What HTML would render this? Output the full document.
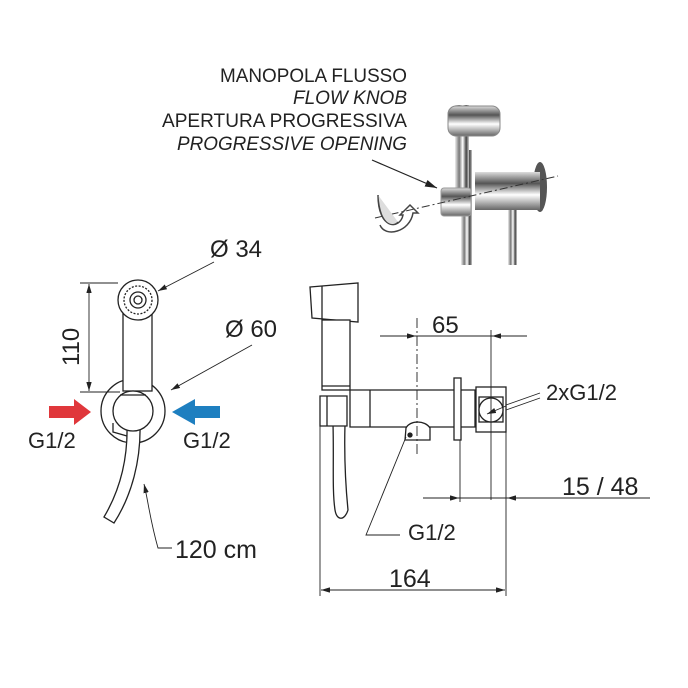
<!DOCTYPE html>
<html><head><meta charset="utf-8"><style>
html,body{margin:0;padding:0;background:#fff}
svg{display:block}
text{font-family:"Liberation Sans",sans-serif;fill:#222}
</style></head><body>
<svg width="688" height="688" viewBox="0 0 688 688" xmlns="http://www.w3.org/2000/svg">
<defs>
<marker id="ar" viewBox="0 0 10 6" refX="10" refY="3" markerWidth="10" markerHeight="6" orient="auto-start-reverse"><path d="M0,0L10,3L0,6z" fill="#222"/></marker>
<linearGradient id="chr" x1="0" x2="1"><stop offset="0" stop-color="#eee"/><stop offset=".3" stop-color="#777"/><stop offset=".55" stop-color="#fff"/><stop offset=".8" stop-color="#444"/><stop offset="1" stop-color="#ccc"/></linearGradient>
<linearGradient id="chv" x1="0" y1="0" x2="0" y2="1"><stop offset="0" stop-color="#ddd"/><stop offset=".3" stop-color="#555"/><stop offset=".6" stop-color="#fff"/><stop offset="1" stop-color="#666"/></linearGradient>
</defs>

<!-- top labels -->
<g font-size="19" text-anchor="end">
<text x="407" y="82" textLength="187" lengthAdjust="spacingAndGlyphs">MANOPOLA FLUSSO</text>
<text x="407" y="104" font-style="italic">FLOW KNOB</text>
<text x="407" y="127" textLength="245" lengthAdjust="spacingAndGlyphs">APERTURA PROGRESSIVA</text>
<text x="407" y="150" font-style="italic" textLength="230" lengthAdjust="spacingAndGlyphs">PROGRESSIVE OPENING</text>
</g>
<line x1="372" y1="160" x2="437" y2="188" stroke="#222" stroke-width="1.2" marker-end="url(#ar)"/>
<!-- photo approx -->
<rect x="461" y="150" width="11" height="115" fill="url(#chr)"/>
<rect x="508" y="205" width="9" height="60" fill="url(#chr)"/>
<rect x="455" y="105" width="14" height="85" fill="url(#chr)"/>
<rect x="448" y="106" width="52" height="30" rx="8" fill="url(#chv)" stroke="#888"/>
<ellipse cx="540" cy="187" rx="7" ry="25" fill="#555"/>
<rect x="475" y="172" width="65" height="38" fill="url(#chv)"/>
<rect x="441" y="188" width="30" height="28" rx="3" fill="url(#chv)" stroke="#999"/>
<line x1="375" y1="218" x2="558" y2="176" stroke="#333" stroke-dasharray="8,3,2,3"/>
<path d="M378,195 C378,230 400,230 403,215 L400,215 L410,205 L418,213 L413,213 C410,232 385,238 380,225" fill="none" stroke="#444" stroke-width="1.5"/>
<path d="M378,195 C380,225 392,228 398,222" fill="#ddd" stroke="#444"/>

<!-- LEFT VIEW -->
<g stroke="#222" stroke-width="1.3" fill="#fff">
<circle cx="133" cy="411" r="32"/>
<path d="M113,423 L113,432 L127,436" fill="none"/>
<path d="M127,424 C128,460 120,490 104,517 L114,523 C132,495 141,460 140,424 Z"/>
<rect x="123" y="300" width="29" height="91"/>
<ellipse cx="133" cy="411" rx="20" ry="20"/>
<line x1="120" y1="395" x2="146" y2="395"/>
<circle cx="138" cy="300" r="20"/>
<circle cx="138" cy="300" r="14" stroke-dasharray="2,1.5"/>
<circle cx="138" cy="300" r="8"/>
<circle cx="138" cy="300" r="4"/>
</g>
<g stroke="#222" stroke-width="0.9" fill="none">
<line x1="80" y1="283" x2="118" y2="283"/>
<line x1="80" y1="392" x2="120" y2="392"/>
<line x1="89" y1="284" x2="89" y2="391" marker-start="url(#ar)" marker-end="url(#ar)"/>
<line x1="214" y1="262" x2="158" y2="291" marker-end="url(#ar)"/>
<line x1="252" y1="345" x2="171" y2="390" marker-end="url(#ar)"/>
<path d="M172,548 L158,548 C150,520 148,500 144,484" marker-end="url(#ar)"/>
</g>
<text x="0" y="0" font-size="24" transform="translate(79,366) rotate(-90)">110</text>
<text x="210" y="257" font-size="24">Ø 34</text>
<text x="225" y="337" font-size="24">Ø 60</text>
<text x="175" y="558" font-size="25">120 cm</text>
<text x="28" y="448" font-size="22">G1/2</text>
<text x="183" y="448" font-size="22">G1/2</text>
<path d="M49,406 L74,406 L74,399 L91,412 L74,425 L74,418 L49,418 Z" fill="#e0373b"/>
<path d="M220,406 L195,406 L195,399 L172,412 L195,425 L195,418 L220,418 Z" fill="#1e7fc0"/>

<!-- RIGHT VIEW -->
<g stroke="#222" stroke-width="1.3" fill="#fff">
<path d="M333,424 C334,460 332,490 335,510 C337,522 345,520 348,510 C346,490 344,460 345,424 Z"/>
<path d="M310,287 L358,283 L358,322 L312,318 Z"/>
<line x1="322" y1="286" x2="322" y2="319"/>
<rect x="322" y="320" width="28" height="70"/>
<line x1="322" y1="386" x2="350" y2="386"/>
<path d="M350,390 L475,390 L475,427 L350,427 Z"/>
<line x1="370" y1="390" x2="370" y2="427"/>
<path d="M320,396 L347,396 L347,426 L320,426 Z"/>
<line x1="327" y1="396" x2="327" y2="426"/>
<path d="M405,440 L406,428 C410,420 425,420 430,428 L430,440 Z"/>
<circle cx="410" cy="435" r="2" fill="#222"/>
<rect x="454" y="378" width="7" height="62"/>
<rect x="476" y="387" width="30" height="45"/>
<rect x="479" y="397" width="24" height="25"/>
<circle cx="491" cy="410" r="12"/>
</g>
<g stroke="#222" stroke-width="0.9" fill="none">
<line x1="380" y1="336" x2="527" y2="336"/>
<line x1="395" y1="336" x2="416" y2="336" marker-end="url(#ar)"/>
<line x1="512" y1="336" x2="492" y2="336" marker-end="url(#ar)"/>
<line x1="417" y1="318" x2="417" y2="455" stroke-dasharray="10,3,2,3"/>
<line x1="491" y1="330" x2="491" y2="500"/>
<line x1="460" y1="440" x2="460" y2="502"/>
<line x1="506" y1="432" x2="506" y2="596"/>
<line x1="423" y1="498" x2="650" y2="498"/>
<line x1="440" y1="498" x2="459" y2="498" marker-end="url(#ar)"/>
<line x1="525" y1="498" x2="507" y2="498" marker-end="url(#ar)"/>
<line x1="320" y1="420" x2="320" y2="596"/>
<line x1="321" y1="590" x2="505" y2="590" marker-start="url(#ar)" marker-end="url(#ar)"/>
<path d="M400,535 L366,535 L406,437"/>
<path d="M540,393 L506,405 M540,398 L506,410"/>
<line x1="506" y1="406" x2="487" y2="414" marker-end="url(#ar)"/>
</g>
<text x="432" y="333" font-size="24">65</text>
<text x="546" y="400" font-size="22">2xG1/2</text>
<text x="562" y="495" font-size="25">15 / 48</text>
<text x="408" y="540" font-size="22">G1/2</text>
<text x="389" y="587" font-size="25">164</text>
</svg>
</body></html>
